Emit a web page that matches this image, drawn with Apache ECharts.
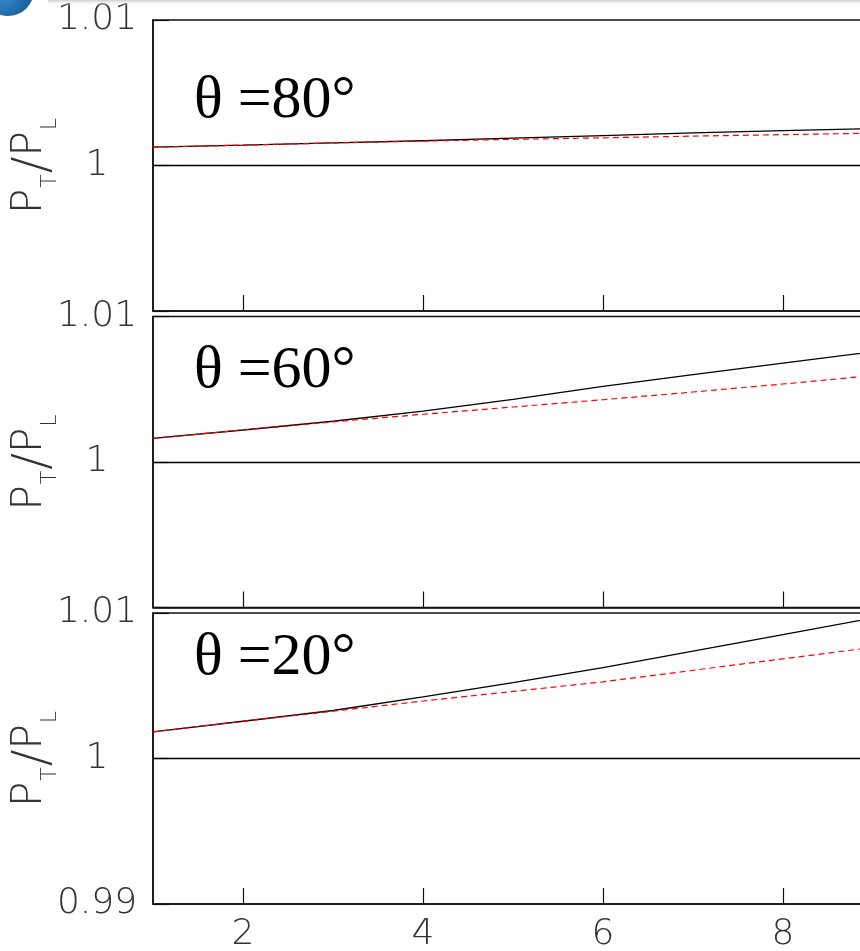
<!DOCTYPE html>
<html>
<head>
<meta charset="utf-8">
<script src="https://cdn.jsdelivr.net/npm/echarts@6/dist/echarts.min.js"></script>
<style>
html,body{margin:0;padding:0;background:#fff;}
#main{width:860px;height:951px;}
</style>
</head>
<body>
<div id="main"></div>
<script>
// ---- data ----
const xValues = [1, 2, 3, 4, 5, 6, 7, 8, 9];
const black80 = [1.00126, 1.0014, 1.00155, 1.0017, 1.00188, 1.00206, 1.00224, 1.0024, 1.00254];
const red80   = [1.00126, 1.0014, 1.00155, 1.00168, 1.0018, 1.0019, 1.00202, 1.00212, 1.00222];
const black60 = [1.00163, 1.0022, 1.0028, 1.0035, 1.0043, 1.0052, 1.006, 1.0068, 1.00758];
const red60   = [1.00163, 1.0022, 1.00276, 1.00328, 1.00378, 1.00428, 1.00481, 1.00536, 1.00594];
const black20 = [1.00183, 1.00256, 1.0033, 1.00423, 1.00522, 1.00624, 1.00738, 1.00852, 1.00966];
const red20   = [1.00183, 1.00256, 1.00325, 1.00395, 1.00461, 1.00527, 1.00606, 1.00685, 1.00764];
const panelTitles = ['θ =80°', 'θ =60°', 'θ =20°'];
const yTicks = [0.99, 1, 1.01];
const yLabelsUpper = [1, 1.01];
const xTicks = [2, 4, 6, 8];
const refValue = 1;
const yMin = 0.99, yMax = 1.01, xMin = 1, xMax = 9;

const blacks = [black80, black60, black20];
const reds = [red80, red60, red20];
const pair = arr => xValues.map((x, i) => [x, arr[i]]);

const tops = [20, 316.5, 613];
const panelH = 291;
const LEFT = 153;
const WIDTH = 720;
const labelFont = 'DejaVu Sans';
const labelColor = '#333';

const grids = [], xAxes = [], yAxes = [], series = [], graphics = [];
tops.forEach((t, i) => {
  grids.push({left: LEFT, top: t, width: WIDTH, height: panelH, show: true,
    outerBoundsMode: 'none', containLabel: false,
    borderColor: '#111', borderWidth: 1.5, backgroundColor: 'transparent'});
  xAxes.push({type: 'value', gridIndex: i, min: xMin, max: xMax,
    axisLine: {show: true, lineStyle: {color: '#111', width: 1.5}},
    axisTick: {show: true, inside: true, length: 16, customValues: xTicks, lineStyle: {color: '#111', width: 1.2}},
    axisLabel: {show: i === 2, customValues: xTicks, fontSize: 36, fontWeight: 200, fontFamily: labelFont, color: labelColor, margin: 13},
    splitLine: {show: false}});
  yAxes.push({type: 'value', gridIndex: i, min: yMin, max: yMax,
    axisLine: {show: true, lineStyle: {color: '#111', width: 1.5}},
    axisTick: {show: true, inside: true, length: 16, customValues: yTicks, lineStyle: {color: '#111', width: 1.2}},
    axisLabel: {show: true, customValues: i === 2 ? yTicks : yLabelsUpper,
      formatter: v => Math.abs(v - 1) < 1e-9 ? '1' : v.toFixed(2),
      fontSize: 36, fontWeight: 200, fontFamily: labelFont, color: labelColor, margin: 56, align: 'center'},
    splitLine: {show: false},
    name: '{p|P}{s|T}{d|/}{p|P}{s|L}', nameLocation: 'middle', nameRotate: 90, nameGap: 100,
    nameMoveOverlap: false,
    nameTextStyle: {rich: {
      p: {fontSize: 42, lineHeight: 44, fontWeight: 200, fontFamily: labelFont, color: labelColor, verticalAlign: 'top'},
      d: {fontSize: 50, lineHeight: 44, fontWeight: 200, fontFamily: labelFont, color: labelColor, verticalAlign: 'top'},
      s: {fontSize: 22, lineHeight: 22, fontWeight: 200, fontFamily: labelFont, color: labelColor, verticalAlign: 'top', padding: [30, 1, 0, 1]}
    }}});
  series.push({type: 'line', xAxisIndex: i, yAxisIndex: i, data: pair(blacks[i]), showSymbol: false,
    lineStyle: {color: '#000', width: 1.3}, z: 3,
    markLine: {silent: true, symbol: 'none', label: {show: false},
      lineStyle: {color: '#000', width: 1.3, type: 'solid'}, data: [{yAxis: refValue}]}});
  series.push({type: 'line', xAxisIndex: i, yAxisIndex: i, data: pair(reds[i]), showSymbol: false,
    lineStyle: {color: '#ff0000', width: 1.2, type: [6, 4]}, z: 4});
});

const titleCenters = [101, 371, 658];
panelTitles.forEach((txt, i) => {
  graphics.push({type: 'text', x: 194, y: titleCenters[i],
    style: {text: txt, fontSize: 60, fontFamily: "'Liberation Serif', 'Times New Roman', serif", fill: '#000', align: 'left', verticalAlign: 'middle'}});
});
// screenshot artifacts at top edge
graphics.push({type: 'rect', shape: {x: 48, y: 0, width: 812, height: 6},
  style: {fill: {type: 'linear', x: 0, y: 0, x2: 0, y2: 1, colorStops: [{offset: 0, color: '#cfcfcf'}, {offset: 1, color: 'rgba(255,255,255,0)'}]}}, z: 100});
graphics.push({type: 'circle', shape: {cx: 8, cy: -10, r: 26},
  style: {fill: {type: 'radial', x: 0.4, y: 0.6, r: 0.7, colorStops: [{offset: 0, color: '#3a8fd0'}, {offset: 1, color: '#0d4f8a'}]}}, z: 100});

const chart = echarts.init(document.getElementById('main'), null, {renderer: 'canvas'});
chart.setOption({
  animation: false,
  backgroundColor: '#fff',
  grid: grids, xAxis: xAxes, yAxis: yAxes, series: series, graphic: graphics
});
</script>
</body>
</html>
